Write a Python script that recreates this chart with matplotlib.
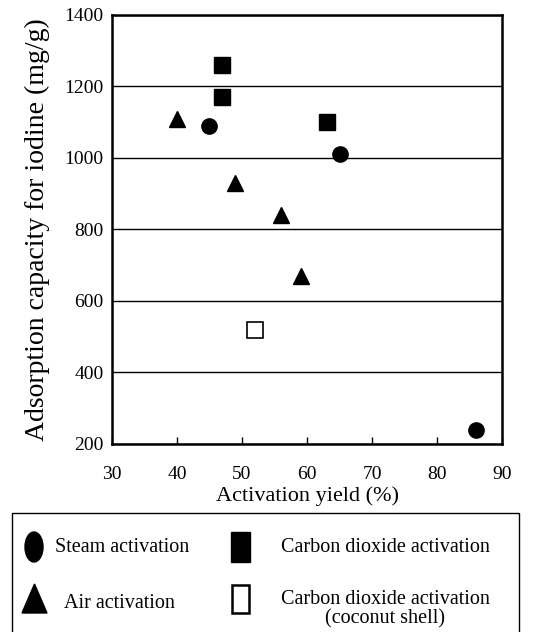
import matplotlib.pyplot as plt
from matplotlib.patches import Rectangle, Ellipse, Polygon

plt.rcParams['font.family'] = ['Liberation Serif', 'DejaVu Serif']

# data
steam_x = [45, 65, 86]
steam_y = [1090, 1010, 240]
co2_x = [47, 47, 63]
co2_y = [1260, 1170, 1100]
air_x = [40, 49, 56, 59]
air_y = [1110, 930, 840, 670]
coco_x = [52]
coco_y = [520]

xticks = [30, 40, 50, 60, 70, 80, 90]
yticks = [200, 400, 600, 800, 1000, 1200, 1400]

fig = plt.figure(figsize=(5.33, 6.32), dpi=100)
ax = fig.add_axes([0.210, 0.2975, 0.732, 0.679])

ax.plot(steam_x, steam_y, 'o', color='black', markersize=11, zorder=3)
ax.plot(co2_x, co2_y, 's', color='black', markersize=11, zorder=3)
ax.plot(air_x, air_y, '^', color='black', markersize=12, zorder=3)
ax.plot(coco_x, coco_y, 's', color='white', markeredgecolor='black',
        markeredgewidth=1.2, markersize=11, zorder=3)

ax.set_xlim(30, 90)
ax.set_ylim(200, 1400)
ax.set_xticks(xticks)
ax.set_yticks(yticks)
ax.yaxis.grid(True, color='black', linewidth=1)
ax.set_axisbelow(True)
ax.tick_params(axis='x', direction='in', length=5, width=1, labelsize=14, pad=16)
ax.tick_params(axis='y', length=0, labelsize=14, pad=6)
for s in ax.spines.values():
    s.set_linewidth(1.8)

ax.set_xlabel('Activation yield (%)', fontsize=16, labelpad=2)
ax.set_ylabel('Adsorption capacity for iodine (mg/g)', fontsize=20, labelpad=10)

# legend box drawn by hand
lg = fig.add_axes([0, 0, 1, 1], facecolor='none')
lg.set_xlim(0, 533)
lg.set_ylim(632, 0)
lg.axis('off')
lg.add_patch(Rectangle((12, 513), 507, 125, fill=False, edgecolor='black', linewidth=1))

lg.add_patch(Ellipse((34, 547), 18, 30, color='black'))
lg.text(55, 548, 'Steam activation', fontsize=14.5, va='center', ha='left')

lg.add_patch(Rectangle((231, 532), 19, 30, color='black'))
lg.text(385, 548, 'Carbon dioxide activation', fontsize=14.5, va='center', ha='center')

lg.add_patch(Polygon([[22, 613], [47, 613], [34.5, 584]], closed=True, color='black'))
lg.text(64, 603, 'Air activation', fontsize=14.5, va='center', ha='left')

lg.add_patch(Rectangle((232, 585), 17, 28, fill=False, edgecolor='black', linewidth=1.8))
lg.text(385, 600, 'Carbon dioxide activation', fontsize=14.5, va='center', ha='center')
lg.text(385, 619, '(coconut shell)', fontsize=14.5, va='center', ha='center')

fig.savefig('out.png', dpi=100)
